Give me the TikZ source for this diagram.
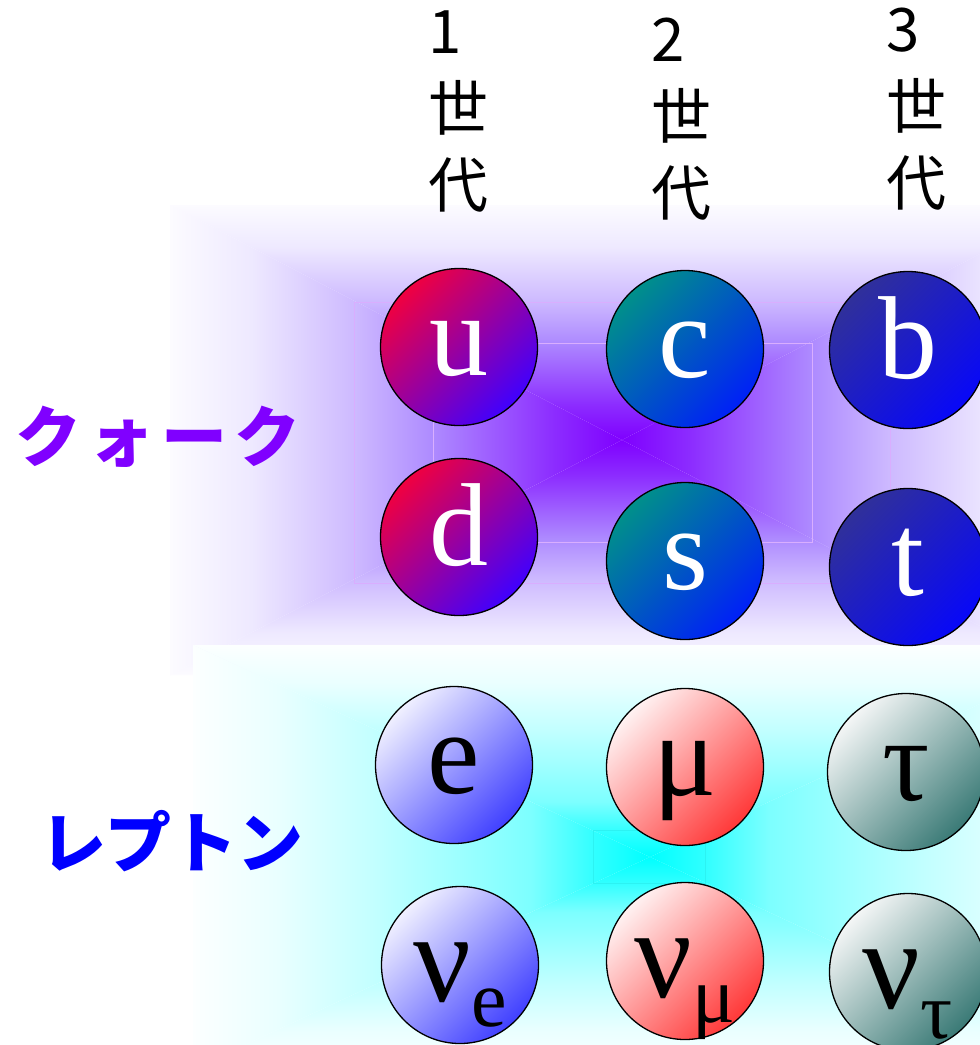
\documentclass[tikz,border=0pt]{standalone}
\usepackage{fontspec}
\setmainfont{Liberation Serif}
\newfontfamily\jpfont{Noto Sans CJK JP}
\usetikzlibrary{positioning}

\definecolor{qcore}{HTML}{7F00FF}
\definecolor{qa}{HTML}{8C2CFF}
\definecolor{qb}{HTML}{AE8BFF}
\definecolor{qc}{HTML}{CDB9FF}
\definecolor{qd}{HTML}{EEE9FF}
\definecolor{qe}{HTML}{FCFBFF}
\definecolor{lcore}{HTML}{00FFFF}
\definecolor{la}{HTML}{30FFFF}
\definecolor{lb}{HTML}{7CFFFF}
\definecolor{lc}{HTML}{C2FFFF}
\definecolor{ld}{HTML}{EAFFFF}
\definecolor{le}{HTML}{FCFFFF}
\definecolor{qline}{HTML}{D9AEFF}
\definecolor{lline}{HTML}{2CF2F2}
\definecolor{qviolet}{HTML}{8000FF}
\definecolor{lblue}{HTML}{0000FF}
\definecolor{uTL}{HTML}{F00040}
\definecolor{uBR}{HTML}{4000FF}
\definecolor{cTL}{HTML}{00908A}
\definecolor{cBR}{HTML}{0020F8}
\definecolor{bTL}{HTML}{30309A}
\definecolor{bBR}{HTML}{0808F8}
\definecolor{eTL}{HTML}{F0F0FF}
\definecolor{eBR}{HTML}{4040FF}
\definecolor{mTL}{HTML}{FFF2F2}
\definecolor{mBR}{HTML}{FF3838}
\definecolor{tTL}{HTML}{F4F6F6}
\definecolor{tBR}{HTML}{3A7A76}

\pgfdeclareverticalshading{quarkglow}{100bp}{color(0bp)=(qcore); color(25bp)=(qcore); color(32.5bp)=(qa); color(46bp)=(qb); color(54.5bp)=(qc); color(66bp)=(qd); color(75bp)=(qe); color(100bp)=(qe)}
\pgfdeclareverticalshading{leptonglow}{100bp}{color(0bp)=(lcore); color(25bp)=(lcore); color(31bp)=(la); color(38bp)=(lb); color(55bp)=(lc); color(66bp)=(ld); color(75bp)=(le); color(100bp)=(le)}

\newcommand\subsize{\fontsize{80}{80}\selectfont}
\newcommand\neutrino[2]{\raisebox{-8pt}{\fontsize{128}{128}\selectfont ν\raisebox{#2}{\subsize #1}}}

\begin{document}
\begin{tikzpicture}[x=1pt, y=-1pt,
    particle/.style={circle, draw=black, line width=1.3pt, minimum size=157pt, inner sep=0pt,
      text height=56pt, text depth=0pt, font=\fontsize{118}{118}\selectfont},
    quark/.style={particle, text=white},
    lepton/.style={particle, text=black},
    grad/.style 2 args={top color=#1, bottom color=#2, shading angle=45},
    gen/.style={align=left, font=\jpfont\fontsize{60}{77}\selectfont},
    kind/.style={font=\jpfont\bfseries\fontsize{66}{66}\selectfont},
    seam/.style={line width=1pt}]

        \useasboundingbox (0,0) rectangle (980,1045);
        \clip (0,0) rectangle (980,1045);
        \fill[white] (0,0) rectangle (980,1045);

        \coordinate (qmid) at (622,440);
        \shade[shading=quarkglow, shading angle=0] (qmid) -- (170,205) -- (1074,205) -- cycle;
        \shade[shading=quarkglow, shading angle=180] (qmid) -- (170,675) -- (1074,675) -- cycle;
        \shade[shading=quarkglow, shading angle=90] (qmid) -- (170,205) -- (170,675) -- cycle;
        \shade[shading=quarkglow, shading angle=270] (qmid) -- (1074,205) -- (1074,675) -- cycle;
        \draw[seam, qline] (354,302) rectangle (890,583);
        \draw[seam, qline] (433,343) rectangle (812,542);

        \coordinate (lmid) at (650,857);
        \shade[shading=leptonglow, shading angle=0] (lmid) -- (193,645) -- (1107,645) -- cycle;
        \shade[shading=leptonglow, shading angle=180] (lmid) -- (193,1069) -- (1107,1069) -- cycle;
        \shade[shading=leptonglow, shading angle=90] (lmid) -- (193,645) -- (193,1069) -- cycle;
        \shade[shading=leptonglow, shading angle=270] (lmid) -- (1107,645) -- (1107,1069) -- cycle;
        \draw[seam, lline] (593,830) rectangle (705,883);

        \node[gen] (gen1) at (458,112) {1\\世\\代};
        \node[gen] (gen2) at (681,119) {2\\世\\代};
        \node[gen] (gen3) at (916,109) {3\\世\\代};

        \node[kind, text=qviolet] (quarks) at (158,437) {ク\hspace{7pt}ォ\hspace{7pt}ー\hspace{7pt}ク};
        \node[kind, text=lblue] (leptons) at (172,841) {レプトン};

        \node[quark, grad={uTL}{uBR}] (u) at (459,347) {u};
        \node[quark, grad={cTL}{cBR}] (c) at (685,349) {c};
        \node[quark, grad={bTL}{bBR}] (b) at (908,350) {b};
        \node[quark, grad={uTL}{uBR}] (d) at (459,537) {d};
        \node[quark, grad={cTL}{cBR}] (s) at (685,561) {s};
        \node[quark, grad={bTL}{bBR}] (t) at (908,567) {t};

        \node[lepton, grad={eTL}{eBR}] (e) at (454,765) {e};
        \node[lepton, grad={mTL}{mBR}] (mu) at (685,767) {μ};
        \node[lepton, grad={tTL}{tBR}] (tau) at (906,772) {τ};
        \node[lepton, grad={eTL}{eBR}] (nue) at (460,965) {\neutrino{e}{-25pt}};
        \node[lepton, grad={mTL}{mBR}] (numu) at (685,961) {\neutrino{μ}{-25pt}};
        \node[lepton, grad={tTL}{tBR}] (nutau) at (908,972) {\neutrino{τ}{-30pt}};
    \end{tikzpicture}
\end{document}
